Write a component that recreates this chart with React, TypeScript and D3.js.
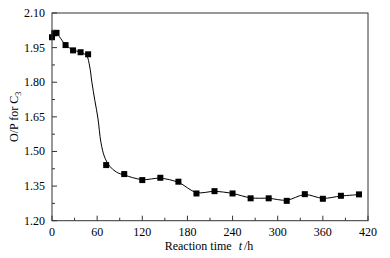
import React from "react";
import * as d3 from "d3";

const pointT = [0, 3, 6, 18, 28, 38, 48, 72, 96, 120, 144, 168, 192, 216, 240, 264, 288, 312, 336, 360, 384, 408];
const pointV = [1.995, 2.012, 2.014, 1.961, 1.938, 1.930, 1.921, 1.441, 1.402, 1.376, 1.386, 1.369, 1.318, 1.328, 1.318, 1.297, 1.297, 1.286, 1.315, 1.295, 1.308, 1.314];

const curveT = [0, 3, 6, 18, 28, 38, 46, 50, 53, 57, 61, 65, 70, 77, 86, 96, 120, 144, 168, 192, 216, 240, 264, 288, 312, 336, 360, 384, 408];
const curveV = [1.99, 2.006, 2.01, 1.962, 1.940, 1.930, 1.915, 1.87, 1.80, 1.72, 1.645, 1.54, 1.475, 1.435, 1.41, 1.398, 1.378, 1.384, 1.366, 1.322, 1.327, 1.318, 1.299, 1.297, 1.289, 1.313, 1.297, 1.307, 1.313];

const xTicks = [0, 60, 120, 180, 240, 300, 360, 420];
const xMinor = [30, 90, 150, 210, 270, 330, 390];
const yTicks = [1.2, 1.35, 1.5, 1.65, 1.8, 1.95, 2.1];
const yMinor = [1.275, 1.425, 1.575, 1.725, 1.875, 2.025];

const W = 390, H = 258;
const L = 52, R = 368, T = 13, B = 220.7;

export default function App() {
  const x = d3.scaleLinear().domain([0, 420]).range([L, R]);
  const y = d3.scaleLinear().domain([1.2, 2.1]).range([B, T]);
  const line = d3
    .line<number>()
    .x((_, i) => x(curveT[i]))
    .y((d) => y(d))
    .curve(d3.curveCatmullRom.alpha(0.5));
  const fs = { fontFamily: "Liberation Serif", fontSize: "12px" };
  const frame = "#333";
  return (
    <svg width={W} height={H} style={{ position: "absolute", left: 0, top: 0, background: "#fff" }}>
      <rect x={0} y={0} width={W} height={H} fill="#fff" />
      <path d={line(curveV) || ""} fill="none" stroke="#000" strokeWidth={1} />
      {pointT.map((t, i) => (
        <rect key={i} x={x(t) - 3} y={y(pointV[i]) - 3} width={6} height={6} fill="#000" />
      ))}
      <rect x={L} y={T} width={R - L} height={B - T} fill="none" stroke={frame} strokeWidth={1} />
      {xTicks.map((t) => (
        <g key={"xt" + t}>
          <line x1={x(t)} x2={x(t)} y1={B} y2={B - 5} stroke={frame} />
          <text x={x(t)} y={236} style={fs} textAnchor="middle">{t}</text>
        </g>
      ))}
      {xMinor.map((t) => (
        <line key={"xm" + t} x1={x(t)} x2={x(t)} y1={B} y2={B - 3} stroke={frame} />
      ))}
      {yTicks.map((v) => (
        <g key={"yt" + v}>
          <line x1={L} x2={L + 5} y1={y(v)} y2={y(v)} stroke={frame} />
          <text x={45} y={y(v) + 4} style={fs} textAnchor="end">{v.toFixed(2)}</text>
        </g>
      ))}
      {yMinor.map((v) => (
        <line key={"ym" + v} x1={L} x2={L + 3} y1={y(v)} y2={y(v)} stroke={frame} />
      ))}
      <text x={209} y={250} style={fs} textAnchor="middle">
        Reaction time<tspan dx={7} fontStyle="italic">t</tspan><tspan dx={2}>/h</tspan>
      </text>
      <text transform={`translate(18, ${(T + B) / 2}) rotate(-90)`} style={fs} textAnchor="middle">
        O/P for C<tspan style={{ fontSize: "8px" }} dy={3}>3</tspan>
      </text>
    </svg>
  );
}
